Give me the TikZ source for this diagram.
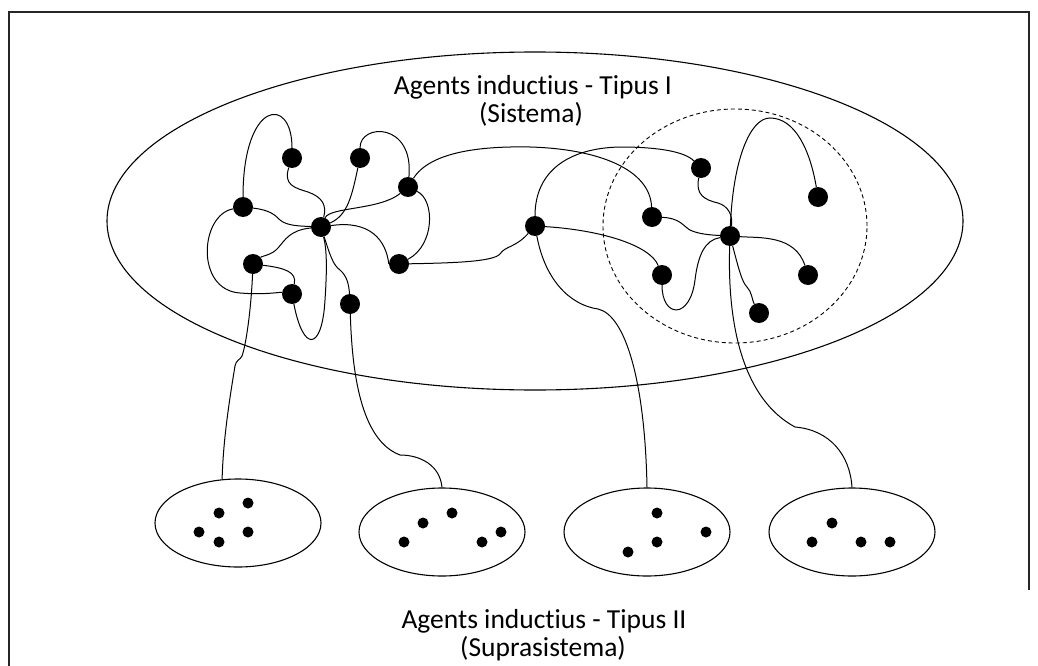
\documentclass[tikz,border=0pt]{standalone}
\usepackage{fontspec}
\setmainfont{Carlito}
\usetikzlibrary{shapes.geometric}
% keeps "t" and "i" as separate letters (no ti ligature)
\newcommand{\Inductius}{induct\kern0pt ius}
\begin{document}
\begin{tikzpicture}[x=1pt,y=-1pt,
  agent/.style={circle,fill=black,draw=none,minimum size=20pt,inner sep=0pt},
  subagent/.style={circle,fill=black,draw=none,minimum size=11pt,inner sep=0pt},
  realm/.style={ellipse,draw,line width=1.1pt,inner sep=0pt},
  link/.style={line width=1pt},
  caption/.style={font=\fontsize{27.5}{28}\selectfont,anchor=base,inner sep=0pt}]
\useasboundingbox (0,0) rectangle (1038,666);
% frame
\draw[line width=1.6pt,black!85] (9,666) -- (9,12) -- (1029,12) -- (1029,590);

% system and subsystem
\node[realm,minimum width=856pt,minimum height=338pt] (sys) at (535,221) {};
\node[ellipse,draw,dashed,dash pattern=on 4pt off 3pt,line width=0.9pt,inner sep=0pt,
      minimum width=264pt,minimum height=234pt] (sub) at (735,226) {};

% suprasystem groups
\node[realm,minimum width=166pt,minimum height=88pt] (S1) at (238,523) {};
\node[realm,minimum width=166pt,minimum height=88pt] (S2) at (442,532) {};
\node[realm,minimum width=166pt,minimum height=88pt] (S3) at (647,532) {};
\node[realm,minimum width=166pt,minimum height=88pt] (S4) at (852,532) {};

% captions
\node[caption] (t1) at (533,95) {Agents \Inductius{} - Tipus I};
\node[caption] (t2) at (531,123) {(Sistema)};
\node[caption] (t3) at (544,628) {Agents \Inductius{} - Tipus II};
\node[caption] (t4) at (543,656) {(Suprasistema)};

% agents of the system
\node[agent] (A) at (292,158) {};
\node[agent] (B) at (360,158) {};
\node[agent] (C) at (408,187) {};
\node[agent] (D) at (243,207) {};
\node[agent] (E) at (321,227) {};
\node[agent] (F) at (253,264) {};
\node[agent] (G) at (399,264) {};
\node[agent] (H) at (292,294) {};
\node[agent] (I) at (350,304) {};
\node[agent] (J) at (535,226) {};
\node[agent] (K) at (701,168) {};
\node[agent] (L) at (818,197) {};
\node[agent] (M) at (652,217) {};
\node[agent] (N) at (730,236) {};
\node[agent] (O) at (662,275) {};
\node[agent] (P) at (808,275) {};
\node[agent] (Q) at (759,313) {};

% agents of the suprasystem
\node[subagent] (a1) at (248,503) {};
\node[subagent] (a2) at (219,513) {};
\node[subagent] (a3) at (199,532) {};
\node[subagent] (a4) at (219,542) {};
\node[subagent] (a5) at (248,532) {};
\node[subagent] (b1) at (452,513) {};
\node[subagent] (b2) at (423,523) {};
\node[subagent] (b3) at (404,542) {};
\node[subagent] (b4) at (482,542) {};
\node[subagent] (b5) at (501,532) {};
\node[subagent] (c1) at (657,513) {};
\node[subagent] (c2) at (657,542) {};
\node[subagent] (c3) at (628,552) {};
\node[subagent] (c4) at (706,532) {};
\node[subagent] (d1) at (832,523) {};
\node[subagent] (d2) at (812,542) {};
\node[subagent] (d3) at (861,542) {};
\node[subagent] (d4) at (890,542) {};

% links in the left cluster
\draw[link] (D) .. controls (243,100) and (292,95) .. (A);
\draw[link] (A) .. controls (283,185) and (295,188) .. (308,192) .. controls (322,197) and (327,205) .. (E);
\draw[link] (B) .. controls (352,195) and (348,215) .. (E);
\draw[link] (B) .. controls (360,123) and (414,122) .. (C);
\draw[link] (C) .. controls (380,210) and (330,207) .. (E);
\draw[link] (C) .. controls (430,152) and (480,146) .. (530,147) .. controls (600,149) and (650,170) .. (M);
\draw[link] (E) .. controls (370,220) and (386,240) .. (G.west);
\draw[link] (C) .. controls (435,200) and (435,245) .. (G);
\draw[link] (G) .. controls (450,263) and (493,262) .. (500,254) .. controls (505,246) and (515,248) .. (J);
\draw[link] (D) .. controls (270,210) and (275,215) .. (280,220) .. controls (287,226) and (300,226) .. (E);
\draw[link] (D) .. controls (200,215) and (195,290) .. (240,293) .. controls (265,295) and (280,292) .. (H);
\draw[link] (E) .. controls (290,230) and (285,240) .. (278,248) .. controls (272,255) and (262,256) .. (F);
\draw[link] (F) .. controls (285,268) and (297,272) .. (H);
\draw[link] (H) .. controls (303,352) and (322,352) .. (325,300) .. controls (327,270) and (327,250) .. (E);
\draw[link] (E) .. controls (330,255) and (333,265) .. (340,270) .. controls (347,276) and (349,285) .. (I);

% links in the right cluster
\draw[link] (J) .. controls (535,170) and (570,148) .. (620,147) .. controls (660,147) and (685,152) .. (K);
\draw[link] (K) .. controls (695,195) and (705,200) .. (718,203) .. controls (728,206) and (733,215) .. (N);
\draw[link] (M) .. controls (680,218) and (683,226) .. (690,230) .. controls (698,234) and (710,235) .. (N);
\draw[link] (J) .. controls (600,230) and (650,245) .. (O);
\draw[link] (O) .. controls (662,318) and (690,320) .. (695,280) .. controls (698,255) and (705,240) .. (N);
\draw[link] (N) .. controls (733,160) and (750,118) .. (770,118) .. controls (795,118) and (810,150) .. (L);
\draw[link] (N) .. controls (760,238) and (795,235) .. (P);
\draw[link] (N) .. controls (739,270) and (742,282) .. (747,287) .. controls (752,292) and (752,300) .. (Q);

% links to the suprasystem
\draw[link] (F) .. controls (251,310) and (246,345) .. (242,356) .. controls (240,360) and (236,360) .. (235,366) .. controls (226,420) and (223,450) .. (S1.110);
\draw[link] (I) .. controls (352,370) and (360,440) .. (400,455) .. controls (420,455) and (440,465) .. (S2.north);
\draw[link] (J) .. controls (545,280) and (570,305) .. (598,309) .. controls (625,315) and (645,380) .. (S3.north);
\draw[link] (N) .. controls (727,330) and (745,400) .. (795,427) .. controls (830,430) and (850,455) .. (S4.north);
\end{tikzpicture}
\end{document}
